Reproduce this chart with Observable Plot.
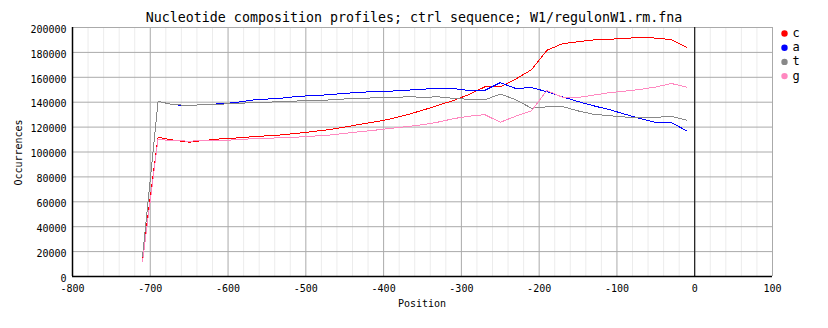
<!DOCTYPE html>
<html>
<head>
<meta charset="utf-8">
<script src="https://cdn.jsdelivr.net/npm/d3@7"></script>
<script src="https://cdn.jsdelivr.net/npm/@observablehq/plot@0.6"></script>
<style>
  html, body { margin: 0; padding: 0; background: #fff; }
  #chart svg { display: block; }
</style>
</head>
<body>
<div id="chart"></div>
<script>
const positions = [-710, -690, -670, -650, -630, -610, -590, -570, -550, -530, -510, -490, -470, -450, -430, -410, -390, -370, -350, -330, -310, -290, -270, -250, -230, -210, -190, -170, -150, -130, -110, -90, -70, -50, -30, -10];

const cValues = [15000, 111800, 109500, 107900, 109300, 110500, 111200, 112200, 113000, 113800, 115100, 116500, 118000, 120000, 122300, 124300, 126700, 129900, 133500, 137500, 141400, 146200, 152300, 152400, 158700, 166000, 181700, 187000, 188600, 190000, 190500, 191300, 192000, 191500, 190300, 184000];
const aValues = [15700, 140700, 137900, 137400, 138100, 138700, 139700, 141700, 142500, 143300, 144700, 145300, 146000, 147100, 148000, 148500, 148900, 149600, 150500, 151000, 151000, 149300, 149500, 155700, 151000, 151800, 148400, 144300, 140500, 137100, 134100, 130400, 126900, 123800, 123600, 116900];
const tValues = [15700, 140700, 137900, 137600, 137900, 138400, 139000, 139600, 140000, 140500, 141000, 141400, 141800, 142600, 143300, 143400, 143500, 144400, 144000, 144300, 143100, 142300, 141800, 146600, 142000, 135200, 136300, 136500, 133000, 130300, 129200, 128100, 127700, 127800, 128700, 125500];
const gValues = [11800, 110300, 108900, 108800, 108900, 109100, 109900, 110600, 111000, 111500, 112000, 112800, 113600, 115000, 116300, 117600, 119000, 120400, 121900, 124000, 126800, 128800, 130000, 123900, 128800, 133000, 149400, 143900, 143800, 145700, 147600, 148900, 150300, 152200, 155000, 152100];

const series = ["c", "a", "t", "g"];
const seriesColors = ["#ff0000", "#0000ff", "#888888", "#ff88c0"];

const xTicks = [-800, -700, -600, -500, -400, -300, -200, -100, 0, 100];
const xMinorTicks = d3.range(-780, 100, 20).filter(v => v % 100 !== 0);
const yTicks = [0, 20000, 40000, 60000, 80000, 100000, 120000, 140000, 160000, 180000, 200000];

const titleText = "Nucleotide composition profiles; ctrl sequence; W1/regulonW1.rm.fna";
const xLabel = "Position";
const yLabel = "Occurrences";

const valuesBySeries = {c: cValues, a: aValues, t: tValues, g: gValues};
const seriesRows = series.map(s => positions.map((p, i) => ({base: s, position: p, count: valuesBySeries[s][i]})));

const chart = Plot.plot({
  width: 828,
  height: 328,
  marginLeft: 72,
  marginRight: 56,
  marginTop: 27,
  marginBottom: 52,
  style: {fontFamily: "'DejaVu Sans Mono', monospace", fontSize: "10px", background: "#fff", color: "#000"},
  x: {domain: [-800, 100]},
  y: {domain: [0, 200000]},
  color: {domain: series, range: seriesColors},
  marks: [
    Plot.ruleX(xMinorTicks, {stroke: "#ececec"}),
    Plot.ruleX(xTicks, {stroke: "#aaaaaa"}),
    Plot.ruleY(yTicks, {stroke: "#aaaaaa"}),
    ...seriesRows.map(data => Plot.line(data, {x: "position", y: "count", stroke: "base", strokeWidth: 1, shapeRendering: "crispEdges"})),
    Plot.ruleX([0], {stroke: "#000"}),
    Plot.ruleX([-800], {stroke: "#000", strokeWidth: 1.5}),
    Plot.ruleY([0], {stroke: "#000", strokeWidth: 1.5}),
    Plot.axisX({ticks: xTicks, tickSize: 0, tickPadding: 8, tickFormat: d => String(d), label: null, fill: "#000"}),
    Plot.axisY({ticks: yTicks, tickSize: 0, tickPadding: 6, tickFormat: d => String(d), label: null, dy: 2, fill: "#000"})
  ]
});

document.getElementById("chart").appendChild(chart);

const svg = d3.select(chart);
svg.append("text")
  .attr("x", 414).attr("y", 22)
  .attr("text-anchor", "middle")
  .style("font", "13.3px 'DejaVu Sans Mono', monospace")
  .attr("fill", "#000")
  .text(titleText);

svg.append("text")
  .attr("x", 422).attr("y", 307)
  .attr("text-anchor", "middle")
  .style("font", "10px 'DejaVu Sans Mono', monospace")
  .attr("fill", "#000")
  .text(xLabel);

svg.append("text")
  .attr("transform", "translate(21.5,152.5) rotate(-90)")
  .attr("text-anchor", "middle")
  .style("font", "10px 'DejaVu Sans Mono', monospace")
  .attr("fill", "#000")
  .text(yLabel);

const legend = svg.append("g");
series.forEach((s, i) => {
  const y = 33.5 + i * 14.2;
  legend.append("circle").attr("cx", 784.5).attr("cy", y).attr("r", 3.2).attr("fill", seriesColors[i]);
  legend.append("text")
    .attr("x", 796).attr("y", y + 3.5)
    .style("font", "12px 'DejaVu Sans Mono', monospace")
    .attr("fill", "#000")
    .text(s);
});
</script>
</body>
</html>
